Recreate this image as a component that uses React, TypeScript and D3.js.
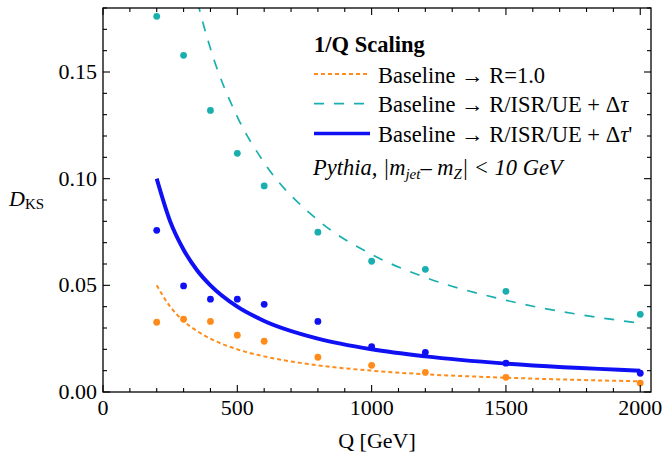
import React from 'react';
import * as d3 from 'd3';

// Q values of the simulated points
const qPoints = [200, 300, 400, 500, 600, 800, 1000, 1200, 1500, 2000];
const dksR10 = [0.0327, 0.0341, 0.0331, 0.0266, 0.0238, 0.0163, 0.0125, 0.0092, 0.0069, 0.0042];
const dksIsrUe = [0.1761, 0.1578, 0.132, 0.1119, 0.0966, 0.0749, 0.0613, 0.0575, 0.0472, 0.0364];
const dksIsrUePrime = [0.0758, 0.0497, 0.0435, 0.0435, 0.0411, 0.0331, 0.0212, 0.0186, 0.0135, 0.0088];

// 1/Q scaling curves
const qCurve = [200, 250, 300, 350, 400, 500, 600, 800, 1000, 1200, 1500, 2000];
const curveR10 = [0.05, 0.04, 0.0333, 0.0286, 0.025, 0.02, 0.0167, 0.0125, 0.01, 0.0083, 0.0067, 0.005];
const curveIsrUe = [0.322, 0.258, 0.215, 0.184, 0.161, 0.129, 0.1075, 0.0806, 0.0645, 0.0537, 0.043, 0.0322];
const curveIsrUePrime = [0.1, 0.08, 0.0667, 0.0571, 0.05, 0.04, 0.0333, 0.025, 0.02, 0.0167, 0.0133, 0.01];

const xTicks = [0, 500, 1000, 1500, 2000];
const yTicks = [0, 0.05, 0.1, 0.15];

const W = 664, H = 453;
const margin = { top: 8, left: 103, right: 13, bottom: 61 };
const font = "'Liberation Serif', 'Times New Roman', Times, 'DejaVu Serif', serif";
const orange = '#ff8c1a';
const cyan = '#1aafaf';
const blue = '#1010f5';

const x = d3.scaleLinear().domain([0, 2040]).range([margin.left, W - margin.right]);
const y = d3.scaleLinear().domain([0, 0.18]).range([H - margin.bottom, margin.top]);

const line = d3.line<[number, number]>()
  .x(d => x(d[0]))
  .y(d => y(d[1]))
  .curve(d3.curveMonotoneX);

const series = [
  { curve: curveR10, pts: dksR10, color: orange, width: 2, dash: '4,3' },
  { curve: curveIsrUe, pts: dksIsrUe, color: cyan, width: 1.7, dash: '10,10' },
  { curve: curveIsrUePrime, pts: dksIsrUePrime, color: blue, width: 4, dash: null },
];

export default function App() {
  const x0 = margin.left, x1 = W - margin.right;
  const y0 = H - margin.bottom, y1 = margin.top;
  const xMinor = d3.range(0, 2001, 100);
  const yMinor = d3.range(0, 0.1801, 0.01);
  const isMajorX = (v: number) => v % 500 === 0;
  const isMajorY = (v: number) => Math.abs(v / 0.05 - Math.round(v / 0.05)) < 1e-6;

  return (
    <svg width={W} height={H} style={{ position: 'absolute', left: 0, top: 0, fontFamily: font }}>
      <defs>
        <clipPath id="plot-clip">
          <rect x={x0} y={y1} width={x1 - x0} height={y0 - y1} />
        </clipPath>
      </defs>
      <rect width={W} height={H} fill="white" />

      <g clipPath="url(#plot-clip)">
        {series.map((s, i) => (
          <path key={i}
            d={line(qCurve.map((q, j) => [q, s.curve[j]] as [number, number])) || ''}
            fill="none" stroke={s.color} strokeWidth={s.width}
            strokeDasharray={s.dash || undefined} />
        ))}
        {series.map((s, i) => (
          <g key={'p' + i} fill={s.color}>
            {qPoints.map((q, j) => (
              <circle key={j} cx={x(q)} cy={y(s.pts[j])} r={3.4} />
            ))}
          </g>
        ))}
      </g>

      {/* frame and ticks */}
      <rect x={x0} y={y1} width={x1 - x0} height={y0 - y1} fill="none" stroke="black" strokeWidth={1.3} />
      <g stroke="black" strokeWidth={1.1}>
        {xMinor.map(v => {
          const len = isMajorX(v) ? 7 : 4;
          return (
            <g key={'x' + v}>
              <line x1={x(v)} x2={x(v)} y1={y0} y2={y0 - len} />
              <line x1={x(v)} x2={x(v)} y1={y1} y2={y1 + len} />
            </g>
          );
        })}
        {yMinor.map(v => {
          const len = isMajorY(v) ? 7 : 4;
          return (
            <g key={'y' + v}>
              <line x1={x0} x2={x0 + len} y1={y(v)} y2={y(v)} />
              <line x1={x1} x2={x1 - len} y1={y(v)} y2={y(v)} />
            </g>
          );
        })}
      </g>

      <g style={{ fontSize: '22px', fontFamily: font }} fill="black">
        {xTicks.map(v => (
          <text key={v} x={x(v)} y={415} textAnchor="middle">{v}</text>
        ))}
        {yTicks.map(v => (
          <text key={v} x={97} y={y(v) + 7} textAnchor="end">{d3.format('.2f')(v)}</text>
        ))}
        <text x={(x0 + x1) / 2} y={448} textAnchor="middle">Q [GeV]</text>
        <text x={9} y={206}>
          <tspan fontStyle="italic">D</tspan>
          <tspan style={{ fontSize: '15px' }} dy={3}>KS</tspan>
        </text>
      </g>

      {/* legend */}
      <g style={{ fontSize: '22.5px', fontFamily: font }} fill="black">
        <text x={314} y={52} fontWeight="bold">1/Q Scaling</text>
        {series.map((s, i) => (
          <line key={'l' + i} x1={314} x2={370} y1={74 + i * 29.7} y2={74 + i * 29.7}
            stroke={s.color} strokeWidth={s.width === 4 ? 3.5 : s.width}
            strokeDasharray={s.dash || undefined} />
        ))}
        <text x={378} y={82.5}>Baseline → R=1.0</text>
        <text x={378} y={112.2}>Baseline → R/ISR/UE + Δ<tspan fontStyle="italic">τ</tspan></text>
        <text x={378} y={141.9}>Baseline → R/ISR/UE + Δ<tspan fontStyle="italic">τ</tspan>'</text>
        <text x={313} y={175} fontStyle="italic">
          Pythia, |<tspan>m</tspan><tspan style={{ fontSize: '15px' }} dy={4}>jet</tspan><tspan dy={-4}>– m</tspan><tspan style={{ fontSize: '15px' }} dy={4}>Z</tspan><tspan dy={-4}>| &lt; 10 GeV</tspan>
        </text>
      </g>
    </svg>
  );
}
